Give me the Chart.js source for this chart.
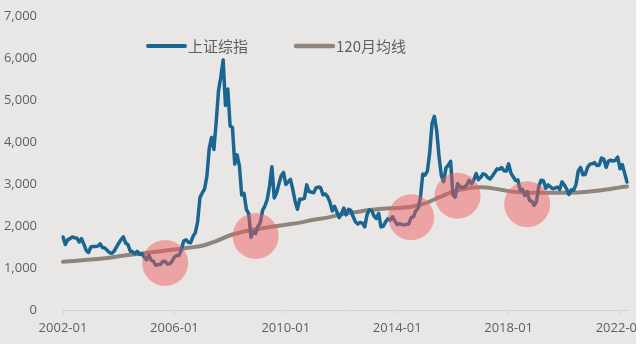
<!DOCTYPE html>
<html>
<head>
<meta charset="utf-8">
<script src="https://cdn.jsdelivr.net/npm/chart.js@4.4.1/dist/chart.umd.min.js"></script>
<style>
  html, body { margin: 0; padding: 0; background: #ffffff; }
  .frame { width: 636px; height: 344px; overflow: hidden; background: #e8e7e5; position: relative; }
  .canvas-wrap { width: 660px; height: 344px; position: absolute; left: 0; top: 0; }
</style>
</head>
<body>
<div class="frame">
  <div class="canvas-wrap"><canvas id="chart"></canvas></div>
</div>
<script>
// monthly closes of the Shanghai Composite, 2002-01 .. 2022-04
const indexValues = [
  1740, 1560, 1670, 1700, 1740, 1720, 1710, 1620, 1700, 1560, 1420, 1370,
  1500, 1511, 1511, 1521, 1577, 1487, 1477, 1421, 1367, 1349, 1398, 1497,
  1590, 1675, 1742, 1595, 1555, 1399, 1386, 1342, 1396, 1320, 1340, 1266,
  1191, 1306, 1181, 1159, 1060, 1081, 1083, 1162, 1155, 1092, 1099, 1161,
  1258, 1299, 1299, 1440, 1642, 1672, 1612, 1601, 1753, 1837, 2099, 2675,
  2786, 2881, 3184, 3841, 4109, 3821, 4471, 5218, 5552, 5955, 4871, 5262,
  4383, 4348, 3473, 3693, 3433, 2736, 2775, 2397, 2293, 1729, 1871, 1821,
  1991, 2082, 2373, 2477, 2633, 2959, 3412, 2667, 2779, 2996, 3195, 3277,
  2989, 3051, 3110, 2871, 2592, 2398, 2638, 2639, 2656, 2979, 2820, 2808,
  2790, 2905, 2928, 2911, 2743, 2762, 2701, 2568, 2359, 2469, 2333, 2199,
  2292, 2428, 2263, 2397, 2373, 2225, 2103, 2047, 2086, 2069, 1980, 2269,
  2385, 2365, 2237, 2178, 2301, 1979, 1994, 2098, 2175, 2141, 2220, 2116,
  2033, 2056, 2033, 2026, 2039, 2048, 2202, 2217, 2364, 2420, 2683, 3235,
  3210, 3310, 3748, 4442, 4612, 4277, 3664, 3206, 3053, 3383, 3446, 3539,
  2738, 2688, 3004, 2938, 2917, 2930, 2979, 3085, 3005, 3100, 3250, 3104,
  3159, 3242, 3223, 3155, 3117, 3192, 3273, 3361, 3349, 3393, 3317, 3307,
  3481, 3259, 3169, 3082, 3095, 2847, 2876, 2725, 2821, 2603, 2588, 2494,
  2585, 2941, 3091, 3078, 2899, 2979, 2933, 2886, 2905, 2929, 2872, 3050,
  2977, 2880, 2750, 2860, 2852, 2985, 3310, 3396, 3218, 3225, 3392, 3473,
  3483, 3509, 3442, 3447, 3615, 3591, 3397, 3544, 3568, 3547, 3564, 3640,
  3361, 3462, 3252, 3047
];

// 120-month moving average, sampled every half year
const maMonths = [
  '2002-01', '2002-07', '2003-01', '2003-07', '2004-01', '2004-07', '2005-01', '2005-07',
  '2006-01', '2006-07', '2007-01', '2007-07', '2008-01', '2008-07', '2009-01', '2009-07',
  '2010-01', '2010-07', '2011-01', '2011-07', '2012-01', '2012-07', '2013-01', '2013-07',
  '2014-01', '2014-07', '2015-01', '2015-07', '2016-01', '2016-07', '2017-01', '2017-07',
  '2018-01', '2018-07', '2019-01', '2019-07', '2020-01', '2020-07', '2021-01', '2021-07',
  '2022-01', '2022-04'
];
const maValues = [
  1150, 1175, 1200, 1230, 1280, 1320, 1360, 1400,
  1440, 1480, 1530, 1640, 1780, 1870, 1930, 1980,
  2030, 2080, 2150, 2200, 2280, 2330, 2380, 2410,
  2430, 2460, 2540, 2680, 2820, 2890, 2920, 2890,
  2830, 2800, 2790, 2790, 2790, 2800, 2830, 2870,
  2920, 2940
];

// bottoms where the index touched the long average
const touchMonths = ['2005-09', '2008-12', '2014-07', '2016-03', '2018-09'];
const touchValues = [1120, 1760, 2210, 2720, 2520];

const xTickLabels = ['2002-01', '2006-01', '2010-01', '2014-01', '2018-01', '2022-01'];
const yTicks = [0, 1000, 2000, 3000, 4000, 5000, 6000, 7000];

const seriesNames = ['上证综指', '120月均线'];
const blue = '#1b6591';
const grey = '#8f857c';
const textColor = '#5f5f5f';

const months = [];
for (let y = 2002; y <= 2022; y++) {
  for (let m = 1; m <= 12; m++) {
    if (months.length >= indexValues.length) break;
    months.push(y + '-' + String(m).padStart(2, '0'));
  }
}

// legend sits inside the plot, near the top left
const cornerLegend = {
  id: 'cornerLegend',
  afterDraw(chart) {
    const ctx = chart.ctx;
    const y = chart.chartArea.top + 30;
    const colors = [blue, grey];
    let x = 148;
    ctx.save();
    ctx.font = '15px "Noto Sans CJK SC", "Noto Sans", sans-serif';
    ctx.textBaseline = 'middle';
    seriesNames.forEach((name, i) => {
      ctx.strokeStyle = colors[i];
      ctx.lineWidth = i === 0 ? 4 : 4.5;
      ctx.lineCap = 'round';
      ctx.beginPath();
      ctx.moveTo(x, y);
      ctx.lineTo(x + 37, y);
      ctx.stroke();
      ctx.fillStyle = textColor;
      ctx.fillText(name, x + 40, y);
      x += 40 + ctx.measureText(name).width + 48;
    });
    ctx.restore();
  }
};

const ctx = document.getElementById('chart').getContext('2d');
new Chart(ctx, {
  type: 'line',
  data: {
    labels: months,
    datasets: [
      {
        label: 'touch',
        data: touchMonths.map((m, i) => ({ x: m, y: touchValues[i] })),
        showLine: false,
        pointRadius: 23,
        pointBorderWidth: 0,
        pointBackgroundColor: 'rgba(238, 92, 92, 0.48)',
        pointBorderColor: 'rgba(0,0,0,0)',
        order: 0
      },
      {
        label: seriesNames[0],
        data: indexValues,
        borderColor: blue,
        borderWidth: 3.5,
        borderJoinStyle: 'round',
        borderCapStyle: 'round',
        pointRadius: 0,
        tension: 0,
        order: 1
      },
      {
        label: seriesNames[1],
        data: maMonths.map((m, i) => ({ x: m, y: maValues[i] })),
        borderColor: grey,
        borderWidth: 4,
        borderCapStyle: 'round',
        pointRadius: 0,
        cubicInterpolationMode: 'monotone',
        order: 2
      }
    ]
  },
  options: {
    responsive: true,
    maintainAspectRatio: false,
    animation: false,
    layout: { autoPadding: false, padding: { top: 16, right: 33, bottom: 0, left: 0 } },
    plugins: {
      legend: { display: false },
      tooltip: { enabled: false }
    },
    scales: {
      x: {
        type: 'category',
        offset: false,
        afterFit: (scale) => {
          scale.height = 34;
          scale.paddingTop = 0;
          scale.paddingBottom = 0;
        },
        border: { display: true, color: '#d3d2d0', width: 1 },
        grid: {
          drawOnChartArea: false,
          drawTicks: true,
          tickLength: 4,
          color: '#d3d2d0'
        },
        ticks: {
          autoSkip: false,
          maxRotation: 0,
          padding: 6,
          color: textColor,
          font: { family: '"Open Sans", sans-serif', size: 13 },
          callback: function (value, index) {
            const label = months[index];
            return xTickLabels.includes(label) ? label : null;
          }
        }
      },
      y: {
        min: 0,
        max: 7000,
        afterFit: (scale) => {
          scale.width = 63;
          scale.paddingTop = 0;
          scale.paddingBottom = 0;
        },
        afterBuildTicks: (scale) => { scale.ticks = yTicks.map(v => ({ value: v })); },
        border: { display: false },
        grid: { display: false },
        ticks: {
          padding: 18,
          color: textColor,
          font: { family: '"Open Sans", sans-serif', size: 13 },
          callback: (v) => v.toLocaleString('en-US')
        }
      }
    }
  },
  plugins: [cornerLegend]
});
</script>
</body>
</html>
